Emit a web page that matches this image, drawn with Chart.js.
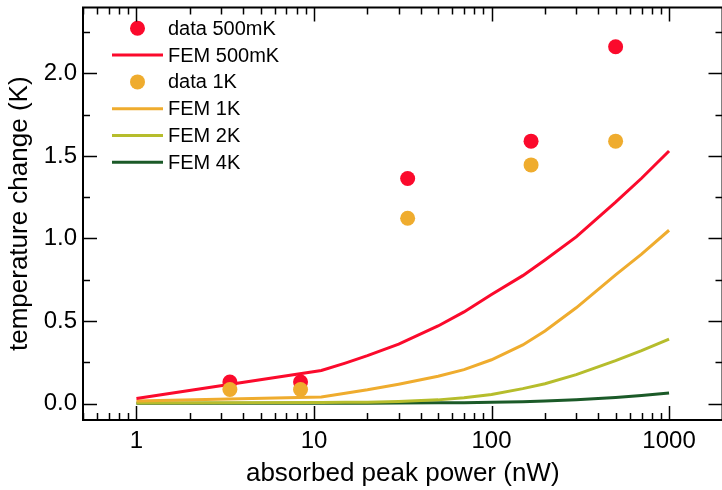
<!DOCTYPE html>
<html>
<head>
<meta charset="utf-8">
<script src="https://cdn.jsdelivr.net/npm/chart.js@4"></script>
<style>
  html, body { margin: 0; padding: 0; background: #fff; overflow: hidden; }
  #wrap { width: 730px; height: 490px; }
</style>
</head>
<body>
<div id="wrap"><canvas id="chart" width="730" height="490"></canvas></div>
<script>
// measured points
const dataPower = [3.36, 8.4, 33.7, 167, 500];
const data500mK = [0.13, 0.13, 1.364, 1.59, 2.162];
const data1K = [0.085, 0.085, 1.123, 1.446, 1.59];

// FEM simulation curves
const femPower = [1, 11, 15, 20, 30, 50, 70, 100, 150, 200, 300, 500, 700, 1000];
const fem500mK = [0.03, 0.2, 0.245, 0.29, 0.36, 0.47, 0.555, 0.66, 0.775, 0.87, 1.01, 1.22, 1.365, 1.53];
const fem1K = [0.015, 0.04, 0.062, 0.083, 0.117, 0.165, 0.205, 0.265, 0.355, 0.44, 0.58, 0.78, 0.905, 1.05];
const fem2K = [0.003, 0.006, 0.007, 0.008, 0.012, 0.022, 0.035, 0.055, 0.09, 0.12, 0.175, 0.26, 0.32, 0.39];
const fem4K = [0.001, 0.002, 0.002, 0.002, 0.003, 0.004, 0.005, 0.007, 0.011, 0.015, 0.022, 0.036, 0.048, 0.064];

const xTicks = [1, 10, 100, 1000];
const yTicks = [0, 0.5, 1.0, 1.5, 2.0];

const RED = "#fb0a2c";
const ORANGE = "#efac2e";
const YGREEN = "#b6bd2c";
const DGREEN = "#1b5a28";
const FONT = '"Liberation Sans", Arial, sans-serif';

const pts = (xs, ys) => xs.map((x, i) => ({ x: x, y: ys[i] }));

const lineSet = (label, ys, color, order) => ({
  label: label,
  data: pts(femPower, ys),
  showLine: true,
  borderColor: color,
  borderWidth: 3,
  pointRadius: 0,
  fill: false,
  order: order
});

const dotSet = (label, ys, color, order) => ({
  label: label,
  data: pts(dataPower, ys),
  showLine: false,
  backgroundColor: color,
  borderWidth: 0,
  pointRadius: 7.5,
  order: order
});

const datasets = [
  dotSet("data 500mK", data500mK, RED, 1),
  lineSet("FEM 500mK", fem500mK, RED, 3),
  dotSet("data 1K", data1K, ORANGE, 0),
  lineSet("FEM 1K", fem1K, ORANGE, 4),
  lineSet("FEM 2K", fem2K, YGREEN, 5),
  lineSet("FEM 4K", fem4K, DGREEN, 6)
];

// legend in the top-left corner, same look as the original
const legendPlugin = {
  id: "cornerLegend",
  afterDraw(chart) {
    const ctx = chart.ctx;
    ctx.save();
    ctx.font = "20px " + FONT;
    ctx.textBaseline = "middle";
    ctx.textAlign = "left";
    chart.data.datasets.forEach((ds, i) => {
      const y = 28.3 + i * 26.8;
      if (ds.showLine) {
        ctx.strokeStyle = ds.borderColor;
        ctx.lineWidth = 3;
        ctx.beginPath();
        ctx.moveTo(112, y);
        ctx.lineTo(163, y);
        ctx.stroke();
      } else {
        ctx.fillStyle = ds.backgroundColor;
        ctx.beginPath();
        ctx.arc(137.5, y, 7.5, 0, Math.PI * 2);
        ctx.fill();
      }
      ctx.fillStyle = "#000";
      ctx.fillText(ds.label, 168, y + 1);
    });
    ctx.restore();
  }
};

// box frame with inward ticks on all four sides
const framePlugin = {
  id: "frame",
  afterDraw(chart) {
    const { ctx, chartArea: a, scales } = chart;
    const xs = scales.x, ys = scales.y;
    ctx.save();
    ctx.strokeStyle = "#000";
    ctx.lineWidth = 2;
    ctx.strokeRect(a.left, a.top, a.right - a.left, a.bottom - a.top);
    ctx.lineWidth = 1.5;
    const tick = (x1, y1, x2, y2) => {
      ctx.beginPath();
      ctx.moveTo(x1, y1);
      ctx.lineTo(x2, y2);
      ctx.stroke();
    };
    for (let d = 0.1; d <= 1000; d *= 10) {
      for (let m = 1; m <= 9; m++) {
        const v = d * m;
        if (v < xs.min || v > xs.max) continue;
        const px = Math.round(xs.getPixelForValue(v)) + 0.5;
        const len = m === 1 ? 14 : 7;
        tick(px, a.bottom, px, a.bottom - len);
        tick(px, a.top, px, a.top + len);
      }
    }
    for (let v = -0.25; v <= 2.5; v += 0.25) {
      if (v < ys.min || v > ys.max) continue;
      const py = Math.round(ys.getPixelForValue(v)) + 0.5;
      const major = Math.abs(v * 2 - Math.round(v * 2)) < 1e-6;
      const len = major ? 14 : 7;
      tick(a.left, py, a.left + len, py);
      tick(a.right, py, a.right - len, py);
    }
    ctx.restore();
  }
};

new Chart(document.getElementById("chart"), {
  type: "scatter",
  data: { datasets: datasets },
  options: {
    responsive: false,
    animation: false,
    layout: { padding: { top: 4, right: 3, left: 0, bottom: 0 } },
    plugins: {
      legend: { display: false },
      tooltip: { enabled: false }
    },
    scales: {
      x: {
        type: "logarithmic",
        min: 0.5,
        max: 2000,
        afterBuildTicks: s => { s.ticks = xTicks.map(v => ({ value: v })); },
        afterFit: s => { s.height = 70; s.paddingLeft = 0; s.paddingRight = 0; },
        grid: { display: false, drawTicks: false },
        border: { display: false },
        ticks: {
          autoSkip: false,
          maxRotation: 0,
          padding: 7,
          color: "#000",
          font: { family: FONT, size: 24 },
          callback: v => String(v)
        },
        title: {
          display: true,
          text: "absorbed peak power (nW)",
          color: "#000",
          font: { family: FONT, size: 26 },
          padding: { top: 0, bottom: 1 }
        }
      },
      y: {
        min: -0.1,
        max: 2.4,
        afterBuildTicks: s => { s.ticks = yTicks.map(v => ({ value: v })); },
        afterFit: s => { s.width = 83; s.paddingTop = 0; s.paddingBottom = 0; },
        grid: { display: false, drawTicks: false },
        border: { display: false },
        ticks: {
          padding: 6,
          color: "#000",
          font: { family: FONT, size: 24 },
          callback: v => v.toFixed(1)
        },
        title: {
          display: true,
          text: "temperature change (K)",
          color: "#000",
          font: { family: FONT, size: 26 },
          padding: { top: 4, bottom: 0 }
        }
      }
    }
  },
  plugins: [legendPlugin, framePlugin]
});
</script>
</body>
</html>
